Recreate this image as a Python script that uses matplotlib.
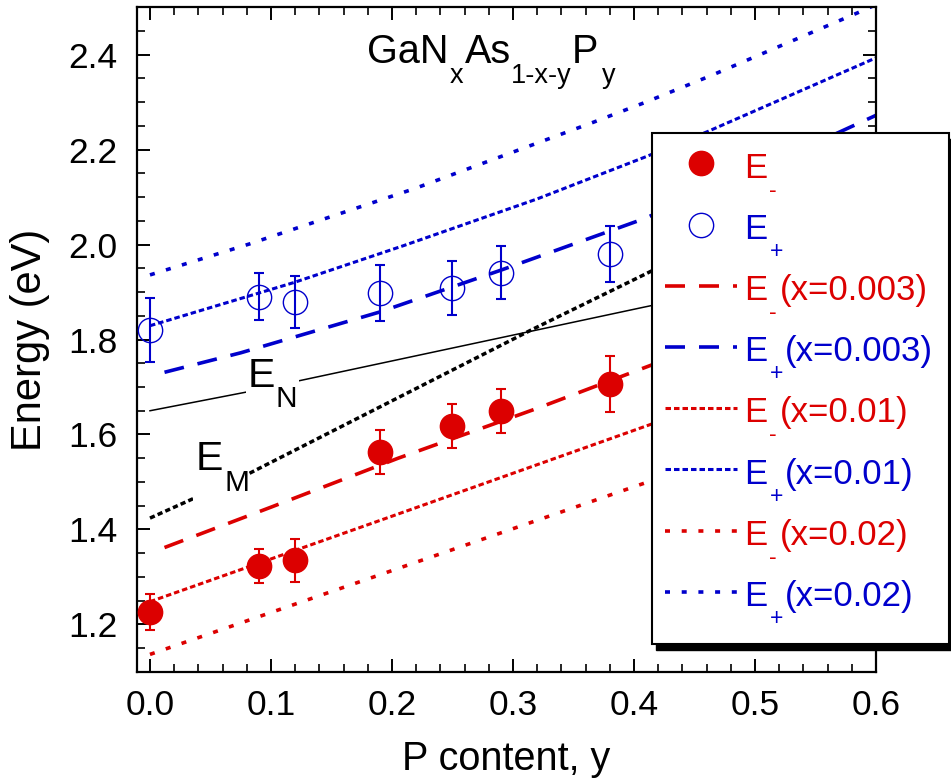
import matplotlib
matplotlib.use("Agg")
import matplotlib.pyplot as plt
from matplotlib.patches import Rectangle
from matplotlib.ticker import MultipleLocator, FormatStrFormatter

plt.rcParams['font.family'] = ['Liberation Sans', 'DejaVu Sans']

RED = '#dc0000'
BLUE = '#0000cc'

# ---------------- data ----------------
p_content = [0.0, 0.09, 0.12, 0.19, 0.25, 0.29, 0.38]
e_minus = [1.226, 1.323, 1.335, 1.563, 1.618, 1.650, 1.706]
e_minus_err = [0.038, 0.035, 0.045, 0.047, 0.046, 0.046, 0.059]
e_plus = [1.820, 1.890, 1.879, 1.897, 1.909, 1.941, 1.980]
e_plus_err = [0.067, 0.049, 0.055, 0.059, 0.057, 0.055, 0.059]

em_003_y = [0.012, 0.100, 0.205, 0.321, 0.408, 0.600]
em_003_e = [1.362, 1.447, 1.550, 1.656, 1.740, 1.925]
ep_003_y = [0.012, 0.075, 0.190, 0.290, 0.408, 0.500, 0.600]
ep_003_e = [1.731, 1.772, 1.858, 1.946, 2.054, 2.155, 2.272]

em_01_y = [0.0, 0.200, 0.408, 0.600]
em_01_e = [1.248, 1.428, 1.616, 1.790]
ep_01_y = [0.0, 0.119, 0.210, 0.320, 0.410, 0.461, 0.600]
ep_01_e = [1.829, 1.920, 1.998, 2.096, 2.185, 2.238, 2.393]

em_02_y = [0.0, 0.408, 0.600]
em_02_e = [1.137, 1.497, 1.666]
ep_02_y = [0.0, 0.082, 0.219, 0.367, 0.409, 0.464, 0.585, 0.600]
ep_02_e = [1.936, 2.001, 2.118, 2.258, 2.299, 2.356, 2.488, 2.505]

eM_y = [0.0, 0.082, 0.315, 0.408, 0.600]
eM_e = [1.424, 1.518, 1.820, 1.936, 2.180]
eN_y = [0.0, 0.079, 0.123, 0.408, 0.600]
eN_e = [1.650, 1.689, 1.713, 1.868, 1.970]

x_ticks = [0.0, 0.1, 0.2, 0.3, 0.4, 0.5, 0.6]
y_ticks = [1.2, 1.4, 1.6, 1.8, 2.0, 2.2, 2.4]

legend_main = ['E'] * 8
legend_subs = ['-', '+', '-', '+', '-', '+', '-', '+']
legend_tails = ['', '', '(x=0.003)', '(x=0.003)', '(x=0.01)', '(x=0.01)',
                '(x=0.02)', '(x=0.02)']
legend_colors = [RED, BLUE, RED, BLUE, RED, BLUE, RED, BLUE]

# ---------------- figure ----------------
fig = plt.figure(figsize=(9.51, 7.82), dpi=100)
fig.patch.set_facecolor('white')
ax = fig.add_axes([0.1441, 0.1407, 0.7770, 0.8503])
ax.set_xlim(-0.0107, 0.6)
ax.set_ylim(1.10, 2.50)


def ls(lw, dash_px, gap_px):
    # dash pattern given in pixels (dpi 100) -> in units of linewidth
    f = 0.72 / lw
    return (0, (dash_px * f, gap_px * f))


DASH = dict(lw=2.6, ls=ls(2.6, 20, 14))
DENSE = dict(lw=2.2, ls=ls(2.2, 5.5, 3.0))
SPARSE = dict(lw=2.6, ls=ls(2.6, 5.0, 11.7))

# black reference lines
ax.plot(eM_y, eM_e, color='black', lw=2.5, ls=ls(2.5, 5.2, 3.2), zorder=1.2)
ax.plot(eN_y, eN_e, color='black', lw=1.1, zorder=1.2)

# model curves
l1, = ax.plot(em_003_y, em_003_e, color=RED, zorder=2, **DASH)
l2, = ax.plot(ep_003_y, ep_003_e, color=BLUE, zorder=2, **DASH)
l3, = ax.plot(em_01_y, em_01_e, color=RED, zorder=2, **DENSE)
l4, = ax.plot(ep_01_y, ep_01_e, color=BLUE, zorder=2, **DENSE)
l5, = ax.plot(em_02_y, em_02_e, color=RED, zorder=2, **SPARSE)
l6, = ax.plot(ep_02_y, ep_02_e, color=BLUE, zorder=2, **SPARSE)

# data points
ax.errorbar(p_content, e_minus, yerr=e_minus_err, fmt='none', ecolor=RED,
            elinewidth=1.5, capsize=3.6, capthick=1.5, zorder=3)
ax.errorbar(p_content, e_plus, yerr=e_plus_err, fmt='none', ecolor=BLUE,
            elinewidth=1.5, capsize=3.6, capthick=1.5, zorder=3)
m1, = ax.plot(p_content, e_minus, 'o', ms=17.5, color=RED, mec=RED, zorder=4)
m2, = ax.plot(p_content, e_plus, 'o', ms=17.5, mfc='none', mec=BLUE, mew=1.0,
              zorder=4)

# knock-outs behind the E_N / E_M labels
ax.add_patch(Rectangle((0.0793, 1.655), 0.0440, 0.090, facecolor='white',
                       edgecolor='none', zorder=1.5))
ax.add_patch(Rectangle((0.0352, 1.452), 0.0468, 0.140, facecolor='white',
                       edgecolor='none', zorder=1.5))

# labels E_N, E_M
ax.text(0.0806, 1.700, 'E', fontsize=29.5, ha='left', va='baseline', zorder=5)
ax.text(0.1037, 1.658, 'N', fontsize=21.5, ha='left', va='baseline', zorder=5)
ax.text(0.0376, 1.525, 'E', fontsize=29.5, ha='left', va='baseline', zorder=5)
ax.text(0.0617, 1.481, 'M', fontsize=21.5, ha='left', va='baseline', zorder=5)

# formula GaN_x As_1-x-y P_y
title_pieces = [('GaN', 0.1794, 2.382, 28.5), ('x', 0.2480, 2.340, 19.5),
                ('As', 0.2604, 2.382, 28.5), ('1-x-y', 0.2984, 2.340, 19.5),
                ('P', 0.3488, 2.382, 28.5), ('y', 0.3736, 2.340, 19.5)]
for s, xx, yy, fs in title_pieces:
    ax.text(xx, yy, s, fontsize=fs, ha='left', va='baseline', zorder=5)

# axes styling
ax.xaxis.set_minor_locator(MultipleLocator(0.02))
ax.yaxis.set_minor_locator(MultipleLocator(0.05))
ax.set_xticks(x_ticks)
ax.set_yticks(y_ticks)
ax.xaxis.set_major_formatter(FormatStrFormatter('%.1f'))
ax.yaxis.set_major_formatter(FormatStrFormatter('%.1f'))
ax.tick_params(which='both', direction='in', top=True, right=True)
ax.tick_params(which='major', length=9.4, width=1.4, labelsize=25.5)
ax.tick_params(which='minor', length=5.5, width=1.2)
ax.tick_params(axis='x', which='major', pad=12)
ax.tick_params(axis='y', which='major', pad=14)
for sp in ax.spines.values():
    sp.set_linewidth(1.6)

ax.set_xlabel('P content, y', fontsize=28.5)
ax.set_ylabel('Energy (eV)', fontsize=30)
ax.xaxis.set_label_coords(0.5, -0.102)
ax.yaxis.set_label_coords(-0.1177, 0.5)

# legend frame + shadow (drawn as patches)
ax.add_artist(Rectangle((0.6969 + 0.0054, 0.0421 - 0.0090), 0.4019, 0.7684,
                        transform=ax.transAxes, facecolor='black',
                        edgecolor='black', clip_on=False, zorder=4.7))
ax.add_artist(Rectangle((0.6969, 0.0421), 0.4019, 0.7684,
                        transform=ax.transAxes, facecolor='white',
                        edgecolor='black', lw=1.5, clip_on=False, zorder=4.8))

handles = [m1, m2, l1, l2, l3, l4, l5, l6]
leg = ax.legend(handles, legend_main, loc='upper left',
                bbox_to_anchor=(0.7145, 0.7865), borderaxespad=0,
                borderpad=0, frameon=False, fontsize=25, handlelength=2.07,
                handleheight=1.12, handletextpad=0.2, labelspacing=0.735,
                numpoints=1)
leg.set_zorder(5)
for t, c in zip(leg.get_texts(), legend_colors):
    t.set_color(c)

# subscripts and the "(x=...)" part of the legend labels
fig.canvas.draw()
r = fig.canvas.get_renderer()
W, H = fig.bbox.width, fig.bbox.height
for t, s, tail, c in zip(leg.get_texts(), legend_subs, legend_tails,
                         legend_colors):
    fp = t.get_fontproperties()
    bb = t.get_window_extent(r)
    d = r.get_text_width_height_descent('lp', fp, ismath=False)[2]
    base = bb.y0 + d
    fig.text((bb.x1 + 2.5) / W, (base - 19) / H, s, color=c,
             fontsize=16.5, ha='left', va='baseline', zorder=10)
    if tail:
        gap = 12.6 if s == '-' else 18.3
        fig.text((bb.x1 + gap) / W, base / H, tail, color=c,
                 fontsize=25, ha='left', va='baseline', zorder=10)

fig.savefig('out.png', dpi=100)
